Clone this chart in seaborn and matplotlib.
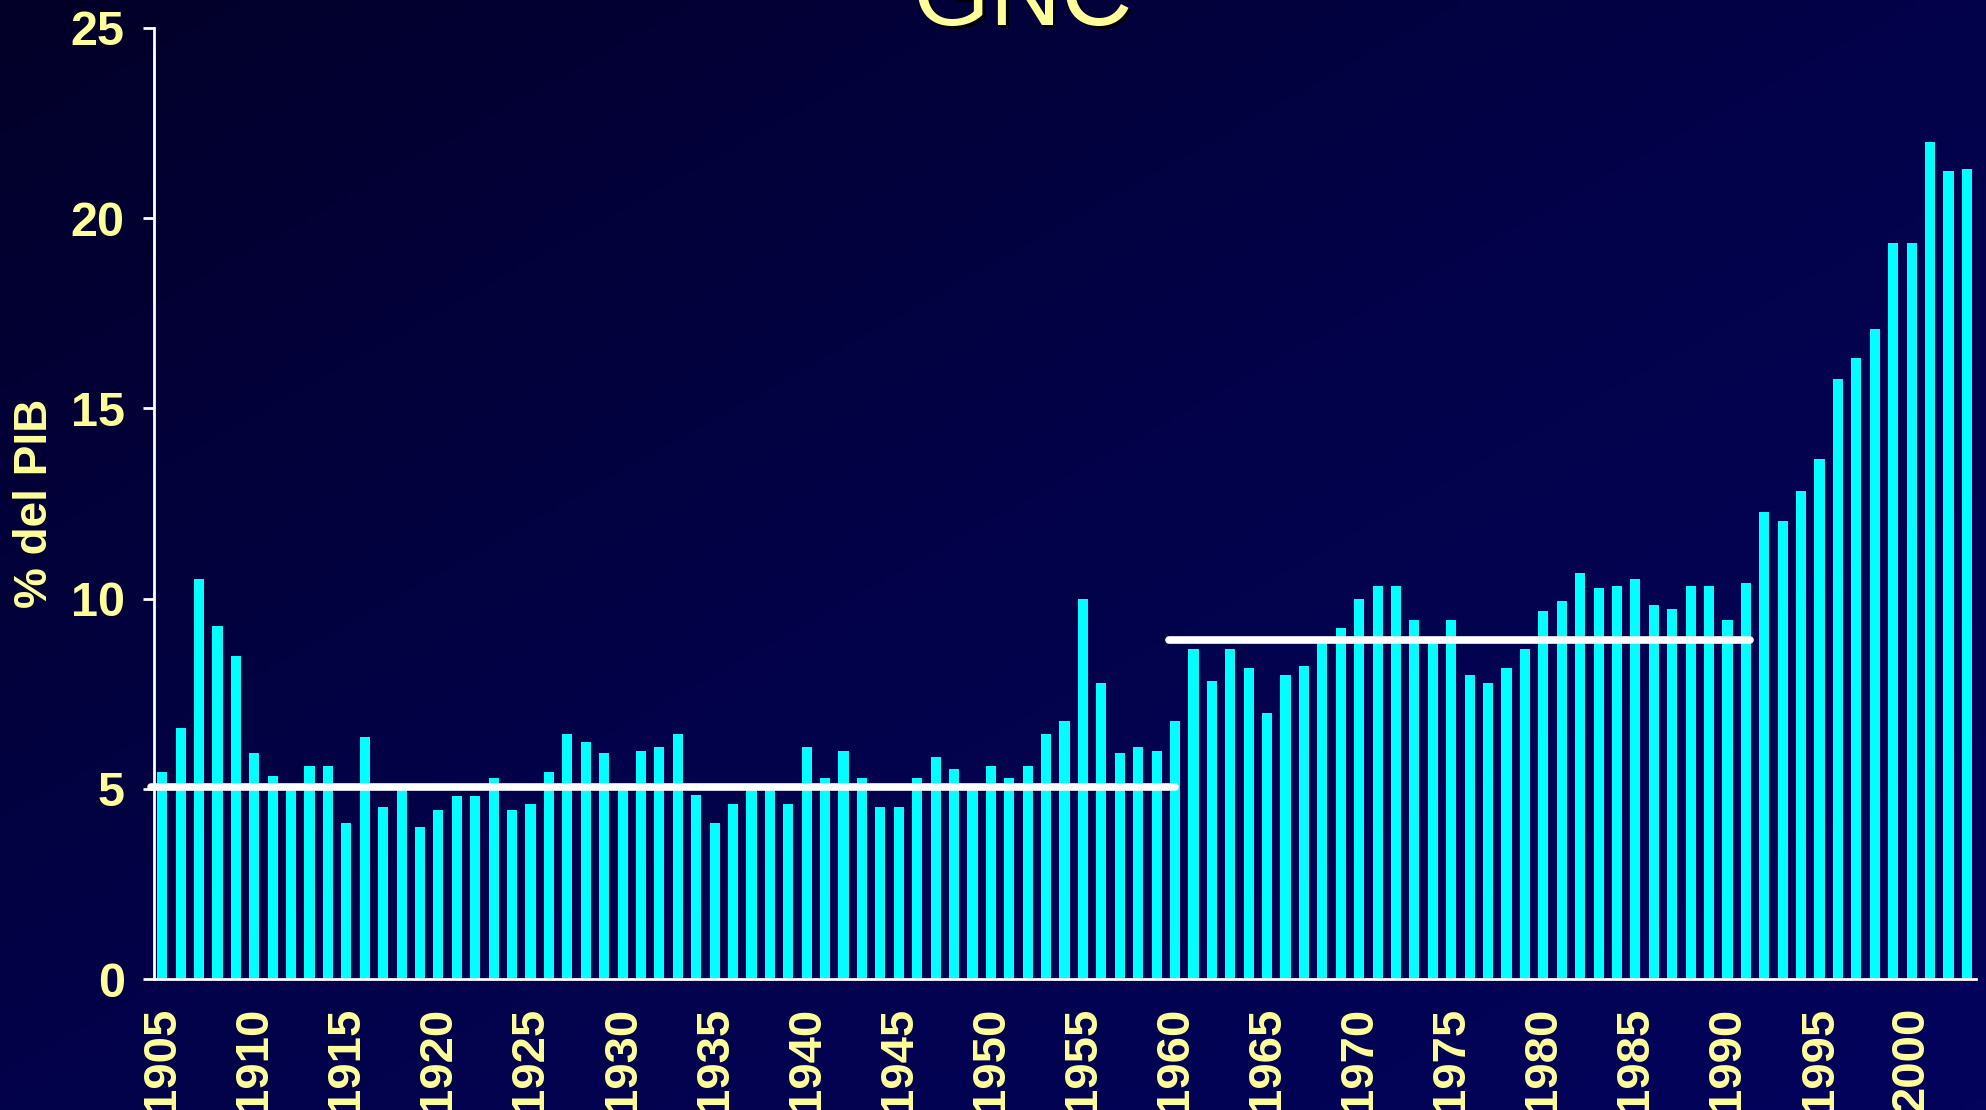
import numpy as np
import pandas as pd
import matplotlib
matplotlib.use("Agg")
import matplotlib.pyplot as plt
import seaborn as sns
from matplotlib.colors import LinearSegmentedColormap

# Data (% del PIB, 1905-2003)
years = list(range(1905, 2004))
values = [
    5.43, 6.6, 10.5, 9.27, 8.5, 5.93, 5.33, 5.0, 5.6, 5.6,        # 1905-1914
    4.1, 6.37, 4.53, 5.0, 4.0, 4.43, 4.8, 4.8, 5.27, 4.43,         # 1915-1924
    4.6, 5.43, 6.43, 6.23, 5.93, 4.97, 6.0, 6.1, 6.43, 4.83,       # 1925-1934
    4.1, 4.6, 5.0, 5.0, 4.6, 6.1, 5.27, 6.0, 5.27, 4.53,           # 1935-1944
    4.53, 5.27, 5.83, 5.53, 5.0, 5.6, 5.27, 5.6, 6.43, 6.77,       # 1945-1954
    10.0, 7.77, 5.93, 6.1, 6.0, 6.77, 8.67, 7.83, 8.67, 8.17,      # 1955-1964
    7.0, 8.0, 8.23, 8.83, 9.23, 10.0, 10.33, 10.33, 9.43, 8.83,    # 1965-1974
    9.43, 8.0, 7.77, 8.17, 8.67, 9.67, 9.93, 10.67, 10.27, 10.33,  # 1975-1984
    10.5, 9.83, 9.73, 10.33, 10.33, 9.43, 10.4, 12.27, 12.03, 12.83,  # 1985-1994
    13.67, 15.77, 16.33, 17.07, 19.33, 19.33, 22.0, 21.23, 21.3,   # 1995-2003
]

# horizontal average lines: (level, start year, end year)
avg_levels = [5.05, 8.9]
avg_starts = [1904.4, 1959.7]
avg_ends = [1960.0, 1991.2]

title = "GNC"
ylabel = "% del PIB"
yellow = "#FFFF99"

df = pd.DataFrame({"year": years, "value": values})

sns.set_theme(style="dark")
plt.rcParams["font.family"] = ["Liberation Sans", "DejaVu Sans"]

fig = plt.figure(figsize=(19.86, 11.10), dpi=100)

# gradient background
bg = fig.add_axes([0, 0, 1, 1], zorder=-10)
gx, gy = np.meshgrid(np.linspace(0, 1, 200), np.linspace(0, 1, 200))
grad = (gx + gy) / 2
cmap = LinearSegmentedColormap.from_list("bg", ["#020028", "#02024A", "#03035C"])
bg.imshow(grad, cmap=cmap, aspect="auto", extent=[0, 1, 0, 1], origin="upper")
bg.axis("off")

ax = fig.add_axes([0.0775, 0.118, 0.9175, 0.857])
ax.set_facecolor("none")

sns.barplot(data=df, x="year", y="value", color="#00FFFF", saturation=1,
            width=0.55, ax=ax)
for p in ax.patches:
    p.set_edgecolor("none")

for lvl, x0, x1 in zip(avg_levels, avg_starts, avg_ends):
    ax.plot([x0 - years[0], x1 - years[0]], [lvl, lvl], color="white", lw=5.5,
            solid_capstyle="round", clip_on=False, zorder=5)

ax.set_xlim(-0.45, len(years) - 0.5)
ax.set_ylim(0, 25)
ax.set_yticks([0, 5, 10, 15, 20, 25])
tick_idx = [i for i, y in enumerate(years) if y % 5 == 0]
ax.set_xticks(tick_idx)
ax.set_xticklabels([str(years[i]) for i in tick_idx], rotation=90, va="top")

ax.tick_params(axis="y", colors="white", labelcolor=yellow, length=8, width=2,
               pad=13, labelsize=35, left=True)
ax.tick_params(axis="x", length=0, pad=20, labelcolor=yellow, labelsize=34)
for lab in ax.get_xticklabels() + ax.get_yticklabels():
    lab.set_fontweight("bold")

for side in ["top", "right"]:
    ax.spines[side].set_visible(False)
for side in ["left", "bottom"]:
    ax.spines[side].set_visible(True)
    ax.spines[side].set_color("white")
    ax.spines[side].set_linewidth(2)
ax.grid(False)

ax.set_xlabel("")
ax.set_ylabel(ylabel, color=yellow, fontsize=33, fontweight="bold")
ax.yaxis.set_label_coords(-0.053, 0.5)

# title with drop shadow, clipped at the top edge as in the original slide
fig.text(0.515 + 0.0016, 1 - 28 / 1110, title, ha="center", va="baseline",
         fontsize=71, color="black")
fig.text(0.515, 1 - 25 / 1110, title, ha="center", va="baseline",
         fontsize=71, color=yellow)

fig.savefig("out.png", dpi=100)
